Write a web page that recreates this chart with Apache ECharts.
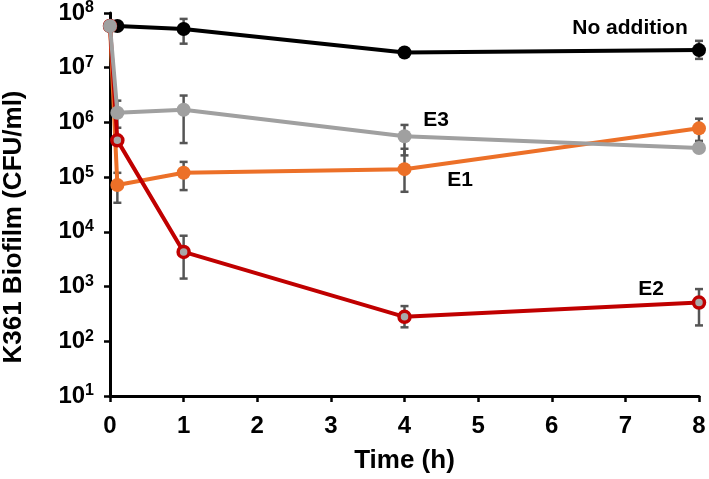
<!DOCTYPE html>
<html>
<head>
<meta charset="utf-8">
<script src="https://cdn.jsdelivr.net/npm/echarts@6/dist/echarts.min.js"></script>
<style>html,body{margin:0;padding:0;background:#fff}#c{width:709px;height:479px}</style>
</head>
<body>
<div id="c"></div>
<script>
// Data (Time in hours, CFU/ml)
var times = [0, 0.1, 1, 4, 8];
var noAddition = [5.8e7, 5.8e7, 5.1e7, 1.9e7, 2.1e7];
var noAdditionLow = [null, null, 2.75e7, 1.6e7, 1.45e7];
var noAdditionHigh = [null, null, 7.8e7, 2.2e7, 3.1e7];
var e3 = [5.8e7, 1.5e6, 1.7e6, 5.6e5, 3.4e5];
var e3Low = [null, 8e5, 4.2e5, 2.5e5, null];
var e3High = [null, 2.5e6, 3.1e6, 9e5, null];
var e1 = [5.8e7, 7.2e4, 1.2e5, 1.4e5, 7.8e5];
var e1Low = [null, 3.4e4, 5.8e4, 5.4e4, 4.6e5];
var e1High = [null, 1.2e5, 1.9e5, 3.3e5, 1.17e6];
var e2 = [5.8e7, 4.7e5, 4.3e3, 2.8e2, 5.1e2];
var e2Low = [null, null, 1.4e3, 1.8e2, 1.95e2];
var e2High = [null, null, 8.5e3, 4.4e2, 9e2];
var xTicks = [0, 1, 2, 3, 4, 5, 6, 7, 8];
var yTicks = [1e1, 1e2, 1e3, 1e4, 1e5, 1e6, 1e7, 1e8];

function pairs(ys) { return times.map(function (t, i) { return [t, ys[i]]; }); }
function errData(lo, hi) {
  var out = [];
  times.forEach(function (t, i) { if (lo[i] != null) out.push([t, lo[i], hi[i]]); });
  return out;
}
var errColor = '#555555';
function errSeries(lo, hi) {
  return {
    type: 'custom', z: 1, silent: true,
    data: errData(lo, hi),
    renderItem: function (params, api) {
      var p1 = api.coord([api.value(0), api.value(1)]);
      var p2 = api.coord([api.value(0), api.value(2)]);
      var w = 4;
      var st = { stroke: errColor, lineWidth: 2.5 };
      return { type: 'group', children: [
        { type: 'line', shape: { x1: p1[0], y1: p1[1], x2: p2[0], y2: p2[1] }, style: st },
        { type: 'line', shape: { x1: p1[0] - w, y1: p1[1], x2: p1[0] + w, y2: p1[1] }, style: st },
        { type: 'line', shape: { x1: p2[0] - w, y1: p2[1], x2: p2[0] + w, y2: p2[1] }, style: st }
      ]};
    }
  };
}
function lineSeries(name, ys, color, z, extra) {
  var s = {
    name: name, type: 'line', data: pairs(ys), z: z,
    symbol: 'circle', symbolSize: 14, showSymbol: true,
    lineStyle: { color: color, width: 4 },
    itemStyle: { color: color },
    emphasis: { disabled: true }
  };
  if (extra) for (var k in extra) s[k] = extra[k];
  return s;
}
var chart = echarts.init(document.getElementById('c'), null, { renderer: 'canvas' });
var fontFam = 'Liberation Sans, Arial, sans-serif';
chart.setOption({
  animation: false,
  grid: { left: 110, right: 10, top: 12, bottom: 82 },
  xAxis: {
    type: 'value', min: 0, max: 8, interval: 1,
    name: 'Time (h)', nameLocation: 'middle', nameGap: 52,
    nameTextStyle: { fontFamily: fontFam, fontWeight: 'bold', fontSize: 26, color: '#000' },
    axisLine: { lineStyle: { color: '#000', width: 3 } },
    axisTick: { show: true, length: 6, lineStyle: { color: '#000', width: 2.5 } },
    axisLabel: { margin: 18, fontFamily: fontFam, fontWeight: 'bold', fontSize: 24, color: '#000',
      formatter: function (v) { return xTicks.indexOf(v) >= 0 ? String(v) : ''; } },
    splitLine: { show: false }
  },
  yAxis: {
    type: 'log', logBase: 10, min: 10, max: 1e8,
    axisLine: { show: true, lineStyle: { color: '#000', width: 3 } },
    axisTick: { show: true, length: 6, lineStyle: { color: '#000', width: 2.5 } },
    axisLabel: {
      margin: 16, color: '#000',
      formatter: function (v) {
        if (yTicks.indexOf(v) < 0) return '';
        return '{b|10}{s|' + Math.round(Math.log10(v)) + '}';
      },
      rich: {
        b: { fontFamily: fontFam, fontWeight: 'bold', fontSize: 24, color: '#000', lineHeight: 26 },
        s: { fontFamily: fontFam, fontWeight: 'bold', fontSize: 16, color: '#000', verticalAlign: 'top', lineHeight: 16 }
      }
    },
    splitLine: { show: false },
    minorTick: { show: false }
  },
  graphic: [
    { type: 'text', x: 14, y: 227, rotation: Math.PI / 2,
      style: { text: 'K361 Biofilm (CFU/ml)', fontFamily: fontFam, fontWeight: 'bold', fontSize: 26, fill: '#000', textAlign: 'center', textVerticalAlign: 'middle' } },
    { type: 'text', x: 630, y: 28, style: { text: 'No addition', fontFamily: fontFam, fontWeight: 'bold', fontSize: 21, fill: '#000', textAlign: 'center', textVerticalAlign: 'middle' } },
    { type: 'text', x: 436, y: 120, style: { text: 'E3', fontFamily: fontFam, fontWeight: 'bold', fontSize: 21, fill: '#000', textAlign: 'center', textVerticalAlign: 'middle' } },
    { type: 'text', x: 460, y: 180, style: { text: 'E1', fontFamily: fontFam, fontWeight: 'bold', fontSize: 21, fill: '#000', textAlign: 'center', textVerticalAlign: 'middle' } },
    { type: 'text', x: 651, y: 289, style: { text: 'E2', fontFamily: fontFam, fontWeight: 'bold', fontSize: 21, fill: '#000', textAlign: 'center', textVerticalAlign: 'middle' } }
  ],
  series: [
    errSeries(noAdditionLow, noAdditionHigh),
    errSeries(e3Low, e3High),
    errSeries(e1Low, e1High),
    errSeries(e2Low, e2High),
    lineSeries('No addition', noAddition, '#000000', 2),
    lineSeries('E1', e1, '#ec7028', 3),
    lineSeries('E2', e2, '#c00000', 4, { itemStyle: { color: '#a8a8a8', borderColor: '#c00000', borderWidth: 3.5 }, symbolSize: 11 }),
    lineSeries('E3', e3, '#a0a0a0', 5)
  ]
});
</script>
</body>
</html>
